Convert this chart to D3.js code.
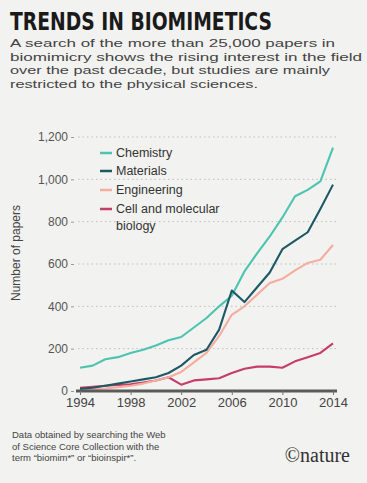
<!DOCTYPE html>
<html><head><meta charset="utf-8">
<script src="https://cdn.jsdelivr.net/npm/d3@7/dist/d3.min.js"></script>
<style>
html,body{margin:0;padding:0;background:#f2f2f0;}
svg{display:block;}
</style></head>
<body>
<script>
const years = d3.range(1994, 2015);
const chemistry   = [110,120,150,160,180,195,215,240,255,300,345,400,450,565,650,730,820,920,950,990,1150];
const materials   = [10,15,25,35,45,55,65,85,120,170,195,290,475,420,490,560,670,710,750,860,975];
const engineering = [5,8,12,18,25,35,50,65,90,135,180,260,360,400,455,510,530,570,605,620,690];
const cellBiology = [15,20,25,28,32,40,50,65,30,50,55,60,85,105,115,115,110,140,160,180,225];
const seriesNames = ["Chemistry","Materials","Engineering","Cell and molecular biology"];
const seriesColors = ["#4cc4b0","#1d5865","#f4ad9e","#c53d68"];
const yTicks = [0,200,400,600,800,1000,1200];
const xTicks = [1994,1998,2002,2006,2010,2014];

const W = 367, H = 483;
const FONT = "'Liberation Sans','Open Sans',sans-serif";
const svg = d3.select("body").append("svg").attr("width", W).attr("height", H);
svg.append("rect").attr("width", W).attr("height", H).attr("fill", "#f2f2f0");

// Title
svg.append("text").attr("x", 10).attr("y", 30)
  .attr("font-family", "'Liberation Sans Narrow','DejaVu Sans Condensed',sans-serif")
  .attr("font-weight", "bold").attr("font-size", 24).attr("fill", "#1a1a1a")
  .attr("textLength", 262).attr("lengthAdjust", "spacingAndGlyphs")
  .text("TRENDS IN BIOMIMETICS");

const para = ["A search of the more than 25,000 papers in",
  "biomimicry shows the rising interest in the field",
  "over the past decade, but studies are mainly",
  "restricted to the physical sciences."];
const paraLens = [325, 352, 320, 248];
para.forEach((t, i) => {
  svg.append("text").attr("x", 10).attr("y", 47 + i * 13.6)
    .attr("font-family", FONT).attr("font-size", 11.5)
    .attr("fill", "#444")
    .attr("textLength", paraLens[i]).attr("lengthAdjust", "spacingAndGlyphs")
    .text(t);
});

// Scales
const x = d3.scaleLinear().domain([1994, 2014]).range([80, 333]);
const y = d3.scaleLinear().domain([0, 1200]).range([391, 137]);

// Gridlines
svg.append("g").selectAll("line").data(yTicks.filter(d => d > 0)).join("line")
  .attr("x1", 78).attr("x2", 336)
  .attr("y1", d => y(d)).attr("y2", d => y(d))
  .attr("stroke", "#bdbdbd").attr("stroke-width", 1).attr("stroke-dasharray", "1.5,3");

// Y axis labels
const yAxis = d3.axisLeft(y).tickValues(yTicks).tickSize(3).tickPadding(3)
  .tickFormat(d3.format(","));
const gy = svg.append("g").attr("transform", "translate(74,0)").call(yAxis);
gy.select(".domain").remove();
gy.selectAll(".tick line").attr("stroke", "#999");
gy.selectAll(".tick text").attr("font-family", FONT)
  .attr("font-size", 12).attr("fill", "#555");

// Y axis title
svg.append("text").attr("transform", "translate(20,253) rotate(-90)")
  .attr("text-anchor", "middle").attr("font-family", FONT)
  .attr("font-size", 12).attr("fill", "#444").text("Number of papers");

// Lines
const allSeries = [chemistry, materials, engineering, cellBiology];
const line = d3.line().x((d, i) => x(years[i])).y(d => y(d));
[3, 2, 0, 1].forEach(k => {
  svg.append("path").datum(allSeries[k]).attr("d", line)
    .attr("fill", "none").attr("stroke", seriesColors[k])
    .attr("stroke-width", 2.1).attr("stroke-linejoin", "round");
});

// X axis
const xAxis = d3.axisBottom(x).tickValues(xTicks).tickSize(4).tickPadding(3)
  .tickFormat(d3.format("d"));
const gx = svg.append("g").attr("transform", `translate(0,${y(0)})`).call(xAxis);
gx.select(".domain").attr("d", `M76,0H337`).attr("stroke", "#5a5a5a").attr("stroke-width", 3);
gx.selectAll(".tick line").attr("stroke", "#777");
gx.selectAll(".tick text").attr("font-family", FONT)
  .attr("font-size", 13).attr("fill", "#444");

// Legend
const legY = [157, 175, 194, 213];
seriesNames.forEach((n, i) => {
  svg.append("line").attr("x1", 100).attr("x2", 112)
    .attr("y1", legY[i] - 4).attr("y2", legY[i] - 4)
    .attr("stroke", seriesColors[i]).attr("stroke-width", 2.5);
  if (i < 3) {
    svg.append("text").attr("x", 116).attr("y", legY[i])
      .attr("font-family", FONT).attr("font-size", 12.5)
      .attr("fill", "#333").text(n);
  }
});
svg.append("text").attr("x", 116).attr("y", legY[3])
  .attr("font-family", FONT).attr("font-size", 12.5)
  .attr("fill", "#333").text("Cell and molecular");
svg.append("text").attr("x", 116).attr("y", legY[3] + 17)
  .attr("font-family", FONT).attr("font-size", 12.5)
  .attr("fill", "#333").text("biology");

// Footnote
const foot = ["Data obtained by searching the Web",
  "of Science Core Collection with the",
  "term \u201cbiomim*\u201d or \u201cbioinspir*\u201d."];
foot.forEach((t, i) => {
  svg.append("text").attr("x", 12).attr("y", 438 + i * 11.5)
    .attr("font-family", FONT).attr("font-size", 9.5)
    .attr("fill", "#444").text(t);
});
svg.append("text").attr("x", 350).attr("y", 462).attr("text-anchor", "end")
  .attr("font-family", "'Liberation Serif',serif").attr("font-size", 20)
  .attr("fill", "#333").text("\u00a9nature");
</script>
</body></html>
